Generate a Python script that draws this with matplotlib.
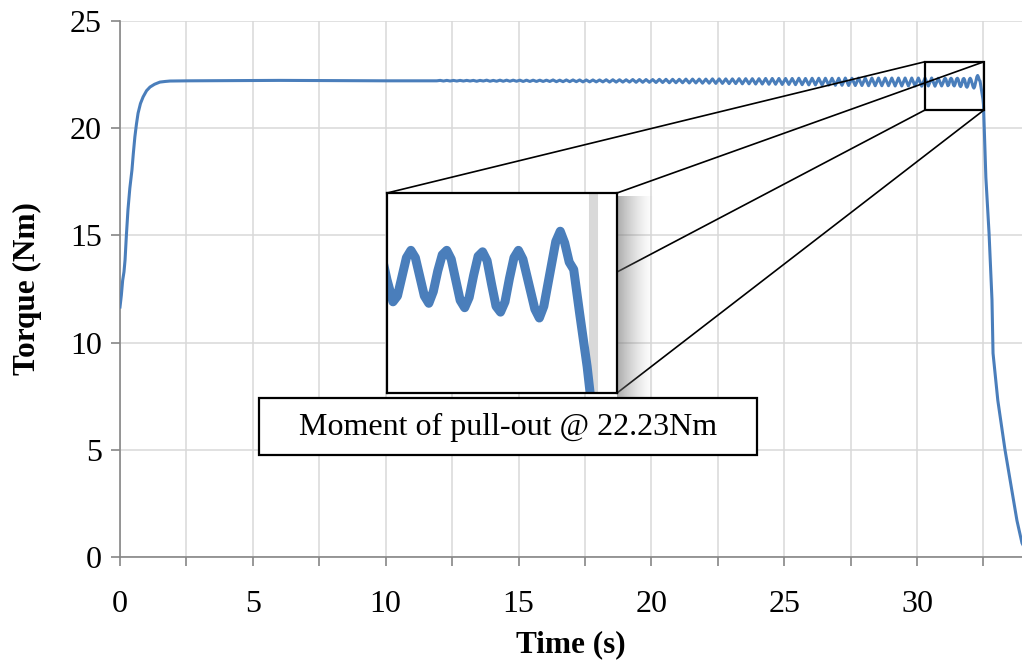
import numpy as np
import matplotlib
matplotlib.use("Agg")
import matplotlib.pyplot as plt
from matplotlib.patches import Rectangle, ConnectionPatch

plt.rcParams['font.family'] = ['Liberation Serif', 'DejaVu Serif']

# start-up and steady part of the torque trace (s, Nm)
t_head = [0, 0.05, 0.1, 0.15, 0.19, 0.24, 0.3, 0.37, 0.45, 0.5, 0.56, 0.62, 0.68, 0.77, 0.87,
          1.0, 1.13, 1.3, 1.5, 1.7, 1.88, 2.6, 4, 6, 8, 10, 11.8]
torque_head = [11.66, 12.2, 12.9, 13.3, 13.85, 15.0, 16.2, 17.2, 18.05, 18.8, 19.6, 20.2, 20.7,
               21.15, 21.46, 21.75, 21.92, 22.05, 22.15, 22.18, 22.2, 22.21,
               22.22, 22.23, 22.22, 22.21, 22.21]

# growing ripple, sampled every 0.125 s from 11.925 s
t_ripple_start = 11.925
t_ripple_step = 0.125
torque_ripple = [
    22.21, 22.23, 22.20, 22.23, 22.20, 22.23, 22.20, 22.23,
    22.20, 22.23, 22.20, 22.23, 22.19, 22.23, 22.20, 22.24,
    22.19, 22.23, 22.19, 22.24, 22.19, 22.24, 22.19, 22.24,
    22.19, 22.24, 22.18, 22.24, 22.18, 22.24, 22.18, 22.24,
    22.18, 22.24, 22.18, 22.25, 22.17, 22.24, 22.17, 22.25,
    22.17, 22.25, 22.17, 22.25, 22.16, 22.25, 22.16, 22.25,
    22.16, 22.25, 22.16, 22.26, 22.15, 22.26, 22.15, 22.26,
    22.15, 22.26, 22.15, 22.27, 22.14, 22.27, 22.14, 22.27,
    22.14, 22.27, 22.13, 22.28, 22.13, 22.28, 22.12, 22.28,
    22.12, 22.28, 22.12, 22.29, 22.11, 22.29, 22.11, 22.29,
    22.10, 22.29, 22.10, 22.30, 22.09, 22.30, 22.09, 22.30,
    22.08, 22.30, 22.08, 22.31, 22.07, 22.31, 22.07, 22.31,
    22.06, 22.31, 22.06, 22.32, 22.05, 22.32, 22.05, 22.32,
    22.04, 22.32, 22.04, 22.32, 22.03, 22.33, 22.03, 22.32,
    22.02, 22.33, 22.02, 22.33, 22.01, 22.33, 22.01, 22.33,
    22.00, 22.33, 22.00, 22.34, 21.99, 22.33, 21.99, 22.34,
    21.99, 22.34, 21.98, 22.34, 21.98, 22.34, 21.98, 22.34,
    21.98, 22.34, 21.97, 22.34, 21.97, 22.34, 21.97, 22.34,
    21.97, 22.34, 21.96, 22.34, 21.97, 22.34, 21.96, 22.33,
]

# last oscillations and pull-out
t_tail = [30.925, 30.99, 31.03, 31.06, 31.09, 31.12, 31.16, 31.19, 31.22, 31.25, 31.28, 31.31,
          31.34, 31.37, 31.40, 31.43, 31.46, 31.49, 31.52, 31.55, 31.58, 31.61, 31.64, 31.67,
          31.70, 31.73, 31.76, 31.79, 31.82, 31.85, 31.88, 31.91, 31.94, 31.97, 32.0, 32.03,
          32.07, 32.11, 32.14, 32.17, 32.21, 32.25, 32.28, 32.31, 32.34, 32.37, 32.41, 32.46,
          32.48, 32.5, 32.59, 32.71, 32.82, 32.86, 33.04, 33.31, 33.57, 33.76, 33.95, 34.1]
torque_tail = [21.97, 22.15, 22.29, 22.33, 22.27, 22.13, 21.98, 22.02, 22.15, 22.28, 22.33, 22.28,
               22.15, 22.02, 21.97, 22.05, 22.19, 22.30, 22.33, 22.27, 22.13, 21.99, 21.94, 22.01,
               22.16, 22.29, 22.32, 22.26, 22.10, 21.95, 21.91, 21.98, 22.14, 22.28, 22.33, 22.27,
               22.10, 21.93, 21.87, 21.95, 22.17, 22.39, 22.46, 22.38, 22.25, 22.2, 21.90, 21.54,
               21.36, 21.1, 17.7, 15.1, 12.0, 9.5, 7.3, 5.0, 3.1, 1.7, 0.65, 0.3]

x_ticks = [0, 2.5, 5, 7.5, 10, 12.5, 15, 17.5, 20, 22.5, 25, 27.5, 30, 32.5]
x_ticklabels = ['0', '', '5', '', '10', '', '15', '', '20', '', '25', '', '30', '']
y_ticks = [0, 5, 10, 15, 20, 25]

zoom_box = (30.3, 32.52, 20.85, 23.1)  # region marked on the main plot
note = "Moment of pull-out @ 22.23Nm"

t_ripple = t_ripple_start + t_ripple_step * np.arange(len(torque_ripple))
time = np.concatenate([t_head, t_ripple, t_tail])
torque = np.concatenate([torque_head, torque_ripple, torque_tail])

blue = '#4a7ebb'
grid_col = '#d9d9d9'
axis_col = '#868686'

fig = plt.figure(figsize=(10.22, 6.61), dpi=100)
ax = fig.add_axes([120 / 1022, 104 / 661, 902 / 1022, 536 / 661])

ax.plot(time, torque, color=blue, lw=2.2, zorder=3)
ax.set_xlim(0, 33.95)
ax.set_ylim(0, 25)
ax.set_xticks(x_ticks)
ax.set_xticklabels(x_ticklabels)
ax.set_yticks(y_ticks)
ax.grid(True, color=grid_col, lw=1.1)
ax.set_axisbelow(True)
for s in ['top', 'right']:
    ax.spines[s].set_visible(False)
for s in ['left', 'bottom']:
    ax.spines[s].set_color(axis_col)
    ax.spines[s].set_linewidth(1.2)
ax.tick_params(axis='both', direction='out', length=6.5, width=1.2, color=axis_col, labelsize=23)
ax.tick_params(axis='x', pad=17)
ax.tick_params(axis='y', pad=6.5)
ax.set_xlabel('Time (s)', fontsize=22.5, fontweight='bold', labelpad=8)
ax.set_ylabel('Torque (Nm)', fontsize=22.5, fontweight='bold', labelpad=20)

# box around the pull-out region
x0, x1, y0, y1 = zoom_box
ax.add_patch(Rectangle((x0, y0), x1 - x0, y1 - y0, fill=False, ec='black', lw=1.6, zorder=4))

# shadow behind the inset
sh = fig.add_axes([617 / 1022, (661 - 400) / 661, 38 / 1022, 204 / 661], zorder=4)
grad = np.linspace(1, 0, 64)[None, :] ** 1.5
sh.imshow(np.dstack([np.full((1, 64, 3), 0.45), grad[..., None] * 0.6]), aspect='auto',
          extent=[0, 1, 0, 1])
sh.axis('off')

# zoomed inset
axins = fig.add_axes([387 / 1022, (661 - 393) / 661, 230 / 1022, 200 / 661], zorder=5)
axins.plot(time, torque, color=blue, lw=6.5, solid_capstyle='round', solid_joinstyle='round')
axins.axvline(32.5, color=grid_col, lw=6.5, zorder=0)
axins.set_xlim(31.12, 32.66)
axins.set_ylim(21.36, 22.72)
axins.set_xticks([])
axins.set_yticks([])
for s in axins.spines.values():
    s.set_linewidth(1.6)
    s.set_color('black')

corners = [((x0, y1), (0, 1)), ((x1, y1), (1, 1)), ((x0, y0), (0, 0)), ((x1, y0), (1, 0))]
for pa, pb in corners:
    con = ConnectionPatch(xyA=pa, coordsA=ax.transData, xyB=pb, coordsB=axins.transAxes,
                          color='black', lw=1.2)
    con.set_zorder(3.5)
    fig.add_artist(con)

# note box
fig.add_artist(Rectangle((259 / 1022, (661 - 455) / 661), 498 / 1022, 57 / 661,
                         transform=fig.transFigure, fc='white', ec='black', lw=1.6, zorder=6))
fig.text(508 / 1022, (661 - 427) / 661, note, ha='center', va='center', fontsize=23, zorder=7)

fig.savefig('out.png', dpi=100)
